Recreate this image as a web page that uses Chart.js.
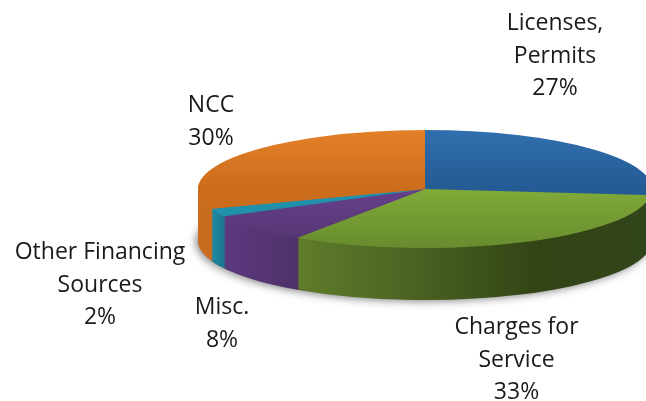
<!DOCTYPE html>
<html>
<head>
<meta charset="utf-8">
<style>
  html, body { margin: 0; padding: 0; background: #fff; }
  canvas { display: block; }
</style>
<script src="https://cdn.jsdelivr.net/npm/chart.js@4"></script>
</head>
<body>
<canvas id="myChart" width="646" height="401"></canvas>
<script>
const categories = ['Licenses, Permits', 'Charges for Service', 'Misc.', 'Other Financing Sources', 'NCC'];
const values = [26.6, 32.8, 7.8, 2.2, 30.4];

// label text, broken the way the picture breaks it
const labelLines = [['Licenses,', 'Permits'], ['Charges for', 'Service'], ['Misc.'], ['Other Financing', 'Sources'], ['NCC']];
// center x and first baseline of each label
const labelAnchors = [[555, 30], [516.5, 334], [222, 314], [100, 259], [211, 112]];

// top face: colour at back edge, middle, front edge
const topColors = [
    ['#306fae', '#245b94', '#245b94'],
    ['#86b03c', '#80aa38', '#688c2e'],
    ['#66408c', '#66408c', '#543570'],
    ['#2b9ab5', '#2190aa', '#2190aa'],
    ['#e37f27', '#cc6d1e', '#cc6d1e']
];
// side wall: colour along x, left to right
const wallColors = [
    ['#22507f', '#22507f'],
    ['#5f7d2b', '#4a6222', '#334515', '#32441a'],
    ['#5d3a80', '#4e3169'],
    ['#1f8aa5', '#1c7890'],
    ['#c96c20', '#b86018']
];

const centerX = 425, centerY = 189, radius = 227;
const squash = 59 / 227;
const depth = 52;
const lineHeight = 32.5;

function topGradient(c) {
    const ctx = c.chart.ctx;
    const stops = topColors[c.dataIndex];
    const g = ctx.createLinearGradient(0, centerY - radius, 0, centerY + radius);
    stops.forEach((col, i) => g.addColorStop(i / (stops.length - 1), col));
    return g;
}

function wallGradient(ctx, arc, stops) {
    const p = arc.getProps(['startAngle', 'endAngle']);
    let xs = [];
    for (let i = 0; i <= 20; i++) {
        const a = p.startAngle + (p.endAngle - p.startAngle) * i / 20;
        xs.push(centerX + radius * Math.cos(a));
    }
    const g = ctx.createLinearGradient(Math.min(...xs), 0, Math.max(...xs), 0);
    stops.forEach((col, i) => g.addColorStop(i / (stops.length - 1), col));
    return g;
}

const pie3d = {
    id: 'pie3d',
    beforeDatasetsDraw(chart) {
        const ctx = chart.ctx;
        const arcs = chart.getDatasetMeta(0).data;
        const walls = arcs.map((arc, i) => Object.assign({}, arc.options, {
            backgroundColor: wallGradient(ctx, arc, wallColors[i])
        }));
        const tops = arcs.map(arc => arc.options);

        // stack of darker pies, lowest first, makes the wall
        for (let dy = depth; dy >= 1; dy--) {
            ctx.save();
            if (dy === depth) {
                ctx.shadowColor = 'rgba(0,0,0,0.5)';
                ctx.shadowBlur = 8;
                ctx.shadowOffsetX = -2;
                ctx.shadowOffsetY = 1;
            }
            ctx.translate(centerX, centerY + dy);
            ctx.scale(1, squash);
            ctx.translate(-centerX, -centerY);
            arcs.forEach((arc, i) => {
                arc.options = walls[i];
                arc.draw(ctx);
                arc.options = tops[i];
            });
            ctx.restore();
        }

        ctx.save();
        ctx.translate(centerX, centerY);
        ctx.scale(1, squash);
        ctx.translate(-centerX, -centerY);
    },
    afterDatasetsDraw(chart) {
        const ctx = chart.ctx;
        ctx.restore();

        ctx.save();
        ctx.fillStyle = '#1a1a1a';
        ctx.font = '23px "Open Sans", sans-serif';
        ctx.textAlign = 'center';
        ctx.textBaseline = 'alphabetic';
        categories.forEach((name, i) => {
            const lines = labelLines[i].concat(Math.round(values[i]) + '%');
            lines.forEach((line, j) => {
                ctx.fillText(line, labelAnchors[i][0], labelAnchors[i][1] + j * lineHeight);
            });
        });
        ctx.restore();
    }
};

new Chart(document.getElementById('myChart').getContext('2d'), {
    type: 'pie',
    data: {
        labels: categories,
        datasets: [{
            data: values,
            backgroundColor: topGradient,
            borderWidth: 0,
            clip: false
        }]
    },
    options: {
        responsive: false,
        animation: false,
        events: [],
        radius: radius,
        layout: { padding: { left: 204, bottom: 23 } },
        plugins: {
            legend: { display: false },
            tooltip: { enabled: false }
        }
    },
    plugins: [pie3d]
});
</script>
</body>
</html>
